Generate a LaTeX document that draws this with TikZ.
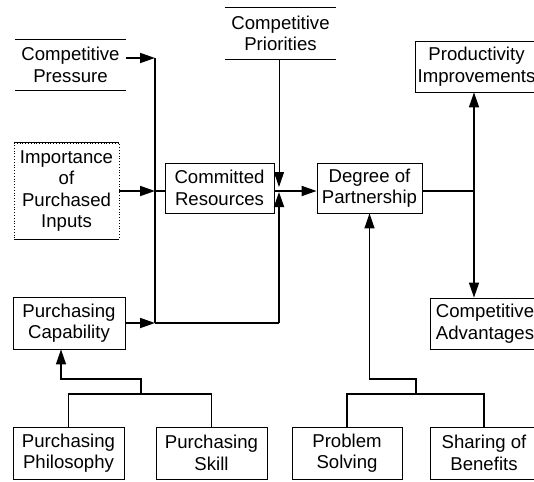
\documentclass[tikz,border=0pt]{standalone}
\usepackage{fontspec}
\setmainfont{Liberation Sans}
\usetikzlibrary{arrows.meta}
\begin{document}
\begin{tikzpicture}[x=1pt,y=-1pt,
  box/.style={draw, line width=0.8pt, align=center, inner sep=0pt,
    font=\fontsize{18.6}{21.5}\selectfont},
  openbox/.style={align=center, inner sep=0pt,
    font=\fontsize{18.6}{21.5}\selectfont},
  conn/.style={line width=1.8pt},
  tree/.style={line width=1.2pt},
  arr/.style={-{Triangle[length=15pt,width=10pt]}},
]
\useasboundingbox (0,0) rectangle (534,481);
% nodes
\node[openbox, minimum width=111pt, minimum height=50pt] (cp) at (70.5,65) {Competitive\\Pressure};
\draw[line width=0.8pt] (cp.north west) -- (cp.north east) (cp.south west) -- (cp.south east);
\node[openbox, minimum width=111pt, minimum height=51pt] (pri) at (280.5,33.5) {Competitive\\Priorities};
\draw[line width=0.8pt] (pri.north west) -- (pri.north east) (pri.south west) -- (pri.south east);
\node[box, dotted, minimum width=105pt, minimum height=96pt] (imp) at (66.5,191) {Importance\\of\\Purchased\\Inputs};
\draw[line width=0.8pt] (imp.north west) -- (imp.north east) (imp.south west) -- (imp.south east);
\node[box, minimum width=109pt, minimum height=50pt] (cr) at (219.5,188) {Committed\\Resources};
\node[box, minimum width=105pt, minimum height=50pt] (dp) at (369.5,188) {Degree of\\Partnership};
\node[box, minimum width=123pt, minimum height=51pt] (pi) at (476.5,66.5) {Productivity\\Improvements};
\node[box, minimum width=110pt, minimum height=51pt] (ca) at (485,323.5) {Competitive\\Advantages};
\node[box, minimum width=112pt, minimum height=52pt] (pc) at (69,323) {Purchasing\\Capability};
\node[box, minimum width=111pt, minimum height=52pt] (pph) at (68.5,453) {Purchasing\\Philosophy};
\node[box, minimum width=111pt, minimum height=52pt] (psk) at (211.5,453) {Purchasing\\Skill};
\node[box, minimum width=110pt, minimum height=52pt] (pso) at (347,453) {Problem\\Solving};
\node[box, minimum width=108pt, minimum height=52pt] (sb) at (484,453) {Sharing of\\Benefits};
% junctions
\coordinate (j1) at (155,58);
\coordinate (j2) at (155,323);
\coordinate (j3) at (279,323);
\coordinate (j4) at (279,191);
\coordinate (j5) at (155,191);
\coordinate (j6) at (474,191);
\coordinate (k1) at (416,379);
\coordinate (k2) at (416,394);
\coordinate (m0) at (61,379);
\coordinate (m1) at (141,379);
\coordinate (m2) at (141,394);
% left connectors
\draw[conn, arr] (cp.east |- j1) -- (j1);
\draw[line width=1.4pt] (j1) -- (j2);
\draw[conn, arr] (pc.east) -- (j2);
\draw[conn] (j2) -- (j3);
\draw[conn, arr, shorten >=1pt] (j3) -- (j4);
\draw[conn, arr] (imp.east |- j5) -- (j5);
\draw[conn] (j5) -- (cr.west |- j5);
\draw[conn] (cr.east |- j4) -- (j4);
\draw[line width=1pt, arr, shorten >=4pt] (pri.south -| j4) -- (j4);
\draw[conn, arr] (j4) -- (dp.west |- j4);
% right connectors
\draw[conn] (dp.east |- j6) -- (j6);
\draw[line width=1.4pt, arr] (j6) -- (pi.south -| j6);
\draw[line width=1.4pt, arr] (j6) -- (ca.north -| j6);
% bottom trees
\draw[tree, arr] (k2) -- (k1) -- (k1 -| dp.south) -- (dp.south);
\draw[tree] (pso.north) -- (pso.north |- k2) -- (sb.north |- k2) -- (sb.north);
\draw[tree, arr] (m2) -- (m1) -- (m0) -- (m0 |- pc.south);
\draw[tree] (pph.north) -- (pph.north |- m2) -- (psk.north |- m2) -- (psk.north);
\end{tikzpicture}
\end{document}
